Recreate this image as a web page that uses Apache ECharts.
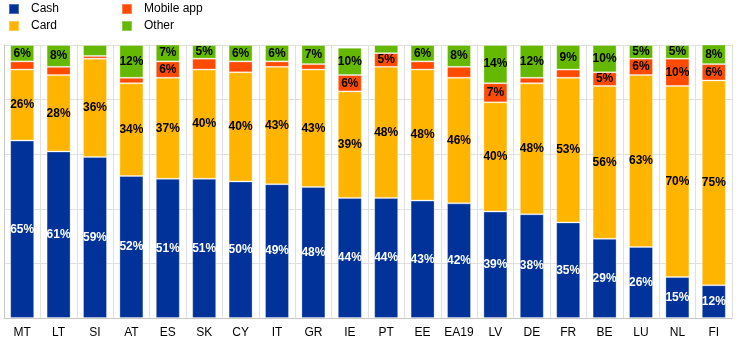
<!DOCTYPE html>
<html><head><meta charset="utf-8">
<script src="https://cdn.jsdelivr.net/npm/echarts@6/dist/echarts.min.js"></script>
<style>html,body{margin:0;padding:0;background:#fff}#c{width:744px;height:344px}</style>
</head><body><div id="c"></div>
<script>
const categories = ['MT','LT','SI','AT','ES','SK','CY','IT','GR','IE','PT','EE','EA19','LV','DE','FR','BE','LU','NL','FI'];
const cash   = [65,61,59,52,51,51,50,49,48,44,44,43,42,39,38,35,29,26,15,12];
const card   = [26,28,36,34,37,40,40,43,43,39,48,48,46,40,48,53,56,63,70,75];
const mobile = [3,3,1,2,6,4,4,2,2,6,5,3,4,7,2,3,5,6,10,6];
const other  = [6,8,4,12,7,5,6,6,7,10,3,6,8,14,12,9,10,5,5,8];
const yTicks = [0,20,40,60,80,100];

const colors = {cash:'#003299', card:'#FFB400', mobile:'#FF4B00', other:'#65B800'};
const chart = echarts.init(document.getElementById('c'), null, {renderer:'canvas'});
function mk(name, data, color, labelColor){
  return {
    name, type:'bar', stack:'t', data, barWidth:24, clip:true,
    itemStyle:{color, borderColor:'rgba(255,255,255,0.3)', borderWidth:1},
    label:{show:true, position:'inside', color:labelColor, fontFamily:'Arial, Liberation Sans', fontWeight:'bold', fontSize:12,
      formatter:p=> p.value>=5 ? p.value+'%' : ''},
    emphasis:{disabled:true}
  };
}
const legendText = {fontFamily:'Arial, Liberation Sans', fontSize:12, color:'#000', padding:[0,0,0,7], lineHeight:10};
chart.setOption({
  animation:false,
  grid:{left:4, right:12, top:45, bottom:26, containLabel:false},
  legend:[
    {data:['Cash','Card'], orient:'vertical', left:8, top:3, padding:0, itemWidth:10, itemHeight:10, itemGap:5, icon:'rect', textStyle:legendText},
    {data:['Mobile app','Other'], orient:'vertical', left:121, top:3, padding:0, itemWidth:10, itemHeight:10, itemGap:5, icon:'rect', textStyle:legendText}
  ],
  xAxis:{type:'category', data:categories, boundaryGap:true,
    axisLine:{show:true, lineStyle:{color:'#c8c8c8'}}, axisTick:{show:false},
    axisLabel:{color:'#000', fontFamily:'Arial, Liberation Sans', fontSize:12, margin:9, interval:0},
    splitLine:{show:true, interval:0, lineStyle:{color:'#e0e0e0'}}},
  yAxis:{type:'value', min:yTicks[0], max:yTicks[yTicks.length-1], interval:20,
    axisLabel:{show:false}, axisLine:{show:true, lineStyle:{color:'#c8c8c8'}}, axisTick:{show:false},
    splitLine:{show:true, lineStyle:{color:'#e0e0e0'}}},
  series:[
    mk('Cash', cash, colors.cash, '#fff'),
    mk('Card', card, colors.card, '#000'),
    mk('Mobile app', mobile, colors.mobile, '#000'),
    mk('Other', other, colors.other, '#000')
  ]
});
</script></body></html>
